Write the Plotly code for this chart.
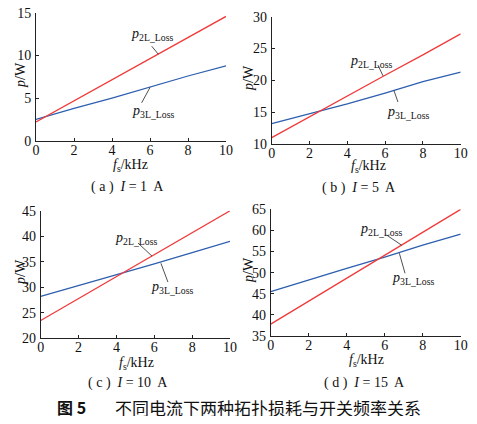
import plotly.graph_objects as go

# ---------------- data ----------------
fs = [0, 2, 4, 6, 8, 10]  # kHz

p2L_1A = [2.2, 4.7, 7.2, 9.6, 12.1, 14.6]
p3L_1A = [2.5, 3.8, 5.0, 6.3, 7.6, 8.8]

p2L_5A = [11.0, 14.3, 17.5, 20.8, 24.0, 27.3]
p3L_5A = [13.2, 14.7, 16.3, 18.0, 19.8, 21.3]

p2L_10A = [23.5, 27.8, 32.1, 36.4, 40.7, 45.0]
p3L_10A = [28.2, 30.3, 32.5, 34.6, 36.8, 39.0]

p2L_15A = [37.8, 43.2, 48.7, 54.1, 59.6, 65.0]
p3L_15A = [45.5, 48.3, 51.0, 53.7, 56.5, 59.1]

x_ticks = [0, 2, 4, 6, 8, 10]
y_ranges = [(0, 15), (10, 30), (20, 45), (35, 65)]
y_dticks = [5, 5, 5, 5]
captions = ["( a )  <i>I</i> = 1  A", "( b )  <i>I</i> = 5  A",
            "( c )  <i>I</i> = 10  A", "( d )  <i>I</i> = 15  A"]
fig_title_num = "图 5"
fig_title = "不同电流下两种拓扑损耗与开关频率关系"

RED = "#f03a3a"
BLUE = "#2d5fae"
SERIF = "Liberation Serif, Times New Roman, DejaVu Serif, serif"
CJK = "Noto Sans CJK SC"

# the page body has an 8 px margin: the figure is drawn 8 px in from the window corner
OFF = 8
W, H = 477 - 2 * OFF, 424 - 2 * OFF


def px(x):
    return (x - OFF) / W


def py(y):
    return 1 - (y - OFF) / H


series = [(p2L_1A, p3L_1A), (p2L_5A, p3L_5A), (p2L_10A, p3L_10A), (p2L_15A, p3L_15A)]

# pixel boxes of the four panels in window pixels: (left, right, top, bottom)
boxes = [(36, 226, 13, 140.7), (271.7, 460.7, 16.7, 144),
         (40.7, 230, 210.7, 338.3), (270.7, 460.7, 209.3, 336)]

# label positions (data coords): text pos, leader start, leader end
labels = [
    {"p2": (6.1, 12.5), "l2": ((6.09, 11.1), (6.44, 10.15)),
     "p3": (6.15, 3.4), "l3": ((5.56, 4.45), (6.0, 6.25))},
    {"p2": (5.28, 23.0), "l2": ((5.62, 22.4), (5.89, 20.7)),
     "p3": (7.19, 15.0), "l3": ((6.68, 16.6), (6.47, 18.4))},
    {"p2": (5.03, 39.65), "l2": ((5.14, 38.67), (5.88, 36.1)),
     "p3": (6.94, 30.05), "l3": ((6.72, 31.03), (6.35, 34.7))},
    {"p2": (5.8, 60.1), "l2": ((6.1, 58.9), (6.89, 56.5)),
     "p3": (7.49, 48.5), "l3": ((7.07, 49.85), (6.77, 54.6))},
]
xt_pos = [(130, 165), (368, 167), (136, 363), (366, 360)]
yt_pos = [(21, 75), (248, 78), (20, 272), (248, 270)]
cap_pos = [(128, 187), (359, 188), (128, 383), (364, 383)]

fig = go.Figure()
annotations = []
shapes = []


def ann(x, y, text, xref="paper", yref="paper", size=14, family=SERIF, angle=0):
    return dict(x=x, y=y, xref=xref, yref=yref, text=text, showarrow=False,
                xanchor="center", yanchor="middle", textangle=angle,
                font=dict(family=family, size=size, color="#111"))


for i, ((p2, p3), box) in enumerate(zip(series, boxes)):
    n = "" if i == 0 else str(i + 1)
    xa, ya = "x" + n, "y" + n
    fig.add_trace(go.Scatter(x=fs, y=p3, mode="lines", line=dict(color=BLUE, width=1.3),
                             xaxis=xa, yaxis=ya, showlegend=False))
    fig.add_trace(go.Scatter(x=fs, y=p2, mode="lines", line=dict(color=RED, width=1.3),
                             xaxis=xa, yaxis=ya, showlegend=False))
    l, r, t, b = box
    axcommon = dict(showline=True, linecolor="#222", linewidth=1, ticks="inside",
                    ticklen=3, tickcolor="#222", showgrid=False, zeroline=False,
                    automargin=False, ticklabeloverflow="allow",
                    tickfont=dict(family=SERIF, size=14, color="#111"))
    fig.update_layout(**{
        "xaxis" + n: dict(domain=[px(l), px(r)], anchor=ya, range=[0, 10],
                          tickvals=x_ticks, ticklabelstandoff=-4, **axcommon),
        "yaxis" + n: dict(domain=[py(b), py(t)], anchor=xa, range=list(y_ranges[i]),
                          dtick=y_dticks[i], tick0=0, ticklabelstandoff=1, **axcommon),
    })
    lab = labels[i]
    annotations.append(ann(lab["p2"][0], lab["p2"][1], "<i>p</i><sub>2L_Loss</sub>", xa, ya))
    annotations.append(ann(lab["p3"][0], lab["p3"][1], "<i>p</i><sub>3L_Loss</sub>", xa, ya))
    for key in ("l2", "l3"):
        (x0, y0), (x1, y1) = lab[key]
        shapes.append(dict(type="line", xref=xa, yref=ya, x0=x0, y0=y0, x1=x1, y1=y1,
                           line=dict(color="#222", width=0.8)))
    annotations.append(ann(px(xt_pos[i][0]), py(xt_pos[i][1]), "<i>f</i><sub>s</sub>/kHz"))
    annotations.append(ann(px(yt_pos[i][0]), py(yt_pos[i][1]), "<i>p</i>/W", angle=-90))
    annotations.append(ann(px(cap_pos[i][0]), py(cap_pos[i][1]), captions[i]))

annotations.append(ann(px(71.5), py(407), "<b>" + fig_title_num + "</b>", size=16, family=CJK))
annotations.append(ann(px(267.5), py(407), fig_title, size=17, family=CJK))

fig.update_layout(width=W, height=H, margin=dict(l=0, r=0, t=0, b=0),
                  paper_bgcolor="white", plot_bgcolor="white",
                  annotations=annotations, shapes=shapes)

fig.write_html("out.html")
